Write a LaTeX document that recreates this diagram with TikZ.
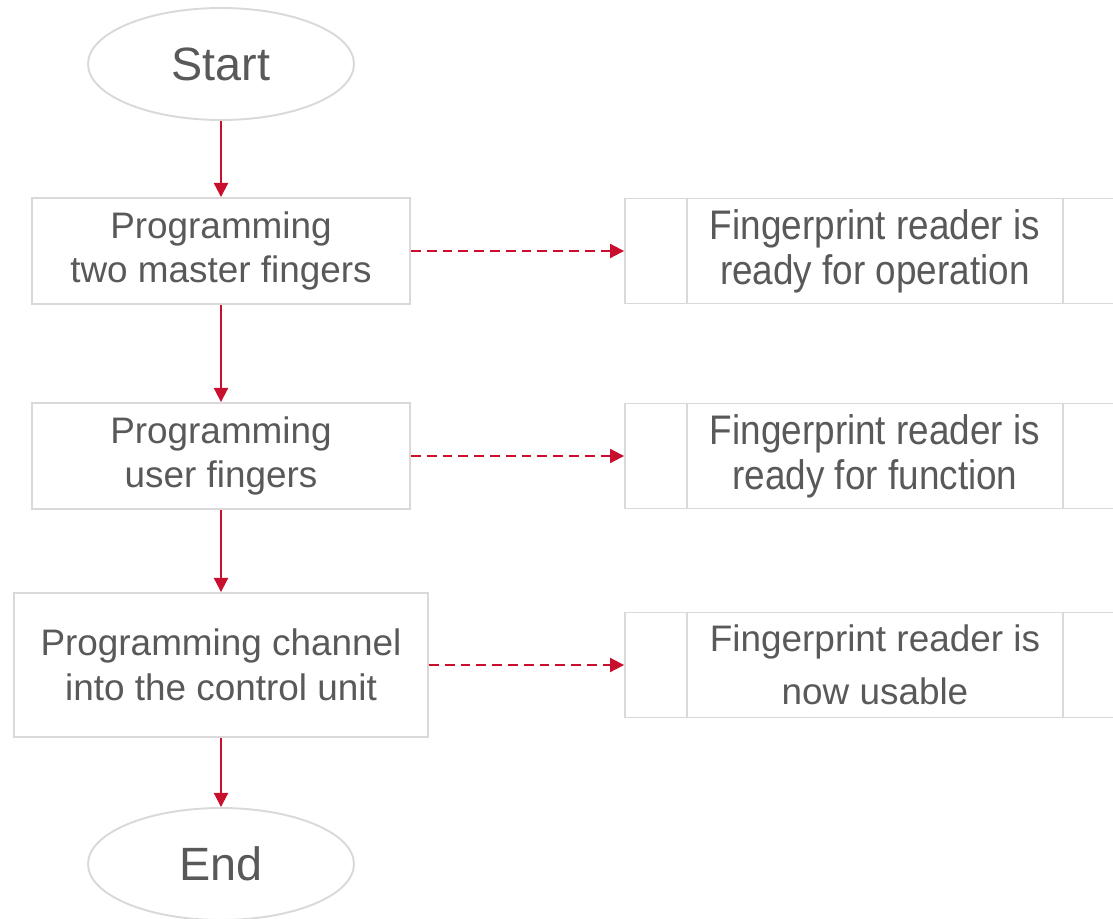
\documentclass[tikz,border=0pt]{standalone}
\usepackage{fontspec}
\setmainfont{Liberation Sans}
\usetikzlibrary{shapes.geometric,arrows.meta}
\definecolor{flowred}{RGB}{200,16,46}
\definecolor{boxgray}{RGB}{217,217,217}
\definecolor{txtgray}{RGB}{89,89,89}
\begin{document}
\begin{tikzpicture}[
  x=0.02cm, y=-0.02cm,
  term/.style={ellipse, draw=boxgray, line width=1.1pt, text=txtgray,
    minimum width=5.32cm, minimum height=2.24cm, inner sep=0pt,
    font=\fontsize{26.6}{30}\selectfont},
  proc/.style={rectangle, draw=boxgray, line width=1.1pt, text=txtgray,
    minimum width=7.56cm, minimum height=2.12cm, inner sep=0pt, align=center,
    font=\fontsize{21}{25.5}\selectfont},
  state/.style={rectangle, draw=boxgray, line width=1.1pt, text=txtgray,
    minimum width=10cm, minimum height=2.1cm, inner sep=0pt, align=center,
    font=\fontsize{21}{25.5}\selectfont},
  flow/.style={draw=flowred, line width=1.1pt, -{Triangle[length=8pt,width=8pt]}},
  note/.style={flow, dash pattern=on 5.6pt off 3.4pt}
]
  \useasboundingbox (0,0) rectangle (1113,919);
  \clip (0,0) rectangle (1113,919);

  % --- main column ---
  \node[term] (start) at (221,64) {Start};
  \node[proc] (master) at (221,251) {Programming\\two master fingers};
  \node[proc] (user) at (221,456) {Programming\\user fingers};
  \node[proc, minimum width=8.28cm, minimum height=2.88cm] (channel) at (221,665)
    {Programming channel\\into the control unit};
  \node[term] (end) at (221,864) {End};

  \draw[flow] (start) -- (master);
  \draw[flow] (master) -- (user);
  \draw[flow] (user) -- (channel);
  \draw[flow] (channel) -- (end);

  % --- reader states ---
  \node[state] (ready) at (875,251)
    {\scalebox{1}[1.12]{Fingerprint reader is}\\\scalebox{1}[1.12]{ready for operation}};
  \node[state] (func) at (875,456)
    {\scalebox{1}[1.12]{Fingerprint reader is}\\\scalebox{1}[1.12]{ready for function}};
  \node[state, font=\fontsize{21}{30}\selectfont] (usable) at (875,665)
    {Fingerprint reader is\\now usable};
  \foreach \n in {ready, func, usable} {
    \draw[boxgray, line width=1.1pt] ([xshift=1.26cm]\n.north west) -- ([xshift=1.26cm]\n.south west);
    \draw[boxgray, line width=1.1pt] ([xshift=-1.26cm]\n.north east) -- ([xshift=-1.26cm]\n.south east);
  }

  \draw[note] (master) -- (ready);
  \draw[note] (user) -- (func);
  \draw[note] (channel) -- (usable);
\end{tikzpicture}
\end{document}
